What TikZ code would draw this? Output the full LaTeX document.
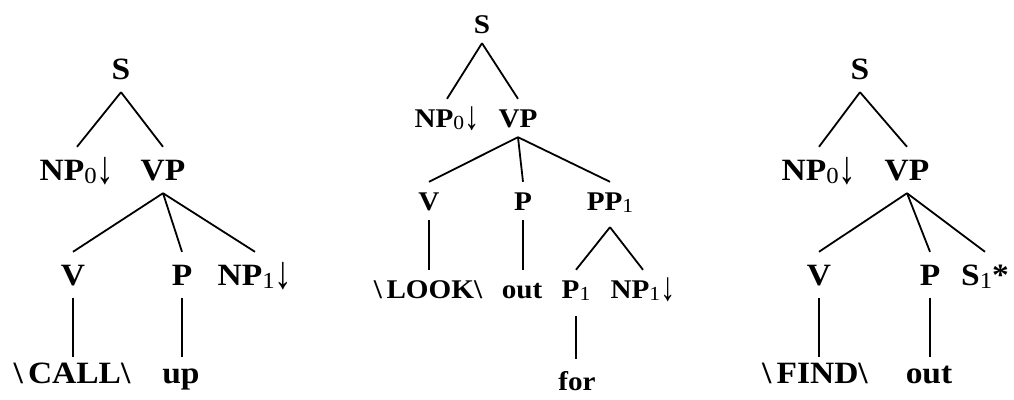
\documentclass[tikz,border=0pt]{standalone}
\usepackage{fontspec}
\usepackage{graphicx}
\setmainfont{Liberation Serif}[FakeStretch=1.08]
\makeatletter
\newcommand\lsub[1]{\raisebox{-0.1em}{\mdseries\fontsize{\fpeval{0.74*\f@size}}{1}\selectfont #1}}
\makeatother
\newcommand\darr{{\mdseries\raisebox{-0.1em}{\scalebox{1.05}[1.5]{↓}}}}
\newcommand\bsl{\textbackslash}
\begin{document}
\begin{tikzpicture}[x=1pt,y=-1pt,
  edge/.style={line width=1.8pt},
  lab/.style={anchor=base, inner xsep=0pt, text depth=0pt},
  big/.style={lab, font=\bfseries\fontsize{31}{36}\selectfont, text height=20pt, inner ysep=13pt},
  bigleaf/.style={big, inner ysep=6pt},
  small/.style={lab, font=\bfseries\fontsize{27}{31}\selectfont, text height=18pt, inner ysep=10pt},
  smallleaf/.style={small, inner ysep=13pt}]
\useasboundingbox (0,0) rectangle (1014,399);
% ---------- tree 1 ----------
\node[big] (a-S) at (121,79) {S};
\node[big] (a-NP0) at (77,180) {NP\lsub{0}\darr};
\node[big] (a-VP) at (163,180) {VP};
\node[big] (a-V) at (73,285) {V};
\node[big] (a-P) at (182,285) {P};
\node[big] (a-NP1) at (255,285) {NP\lsub{1}\darr};
\node[bigleaf] (a-call) at (72,383) {\bsl\,CALL\bsl};
\node[bigleaf] (a-up) at (181,383) {up};
\draw[edge] (a-S.south) -- (a-NP0.north);
\draw[edge] (a-S.south) -- (a-VP.north);
\draw[edge] (a-VP.south) -- (a-V.north);
\draw[edge] (a-VP.south) -- (a-P.north);
\draw[edge] (a-VP.south) -- (a-NP1.north);
\draw[edge] (a-V.south) -- (a-V.south |- a-call.north);
\draw[edge] (a-P.south) -- (a-P.south |- a-up.north);
% ---------- tree 2 ----------
\node[small] (b-S) at (482,33) {S};
\node[small] (b-NP0) at (447,127) {NP\lsub{0}\darr};
\node[small] (b-VP) at (518,127) {VP};
\node[small] (b-V) at (429,210) {V};
\node[small] (b-P) at (523,210) {P};
\node[small] (b-PP1) at (610,210) {PP\lsub{1}};
\node[small] (b-look) at (428,298) {\bsl\,LOOK\bsl};
\node[small] (b-out) at (522,298) {out};
\node[small] (b-P1) at (576,298) {P\lsub{1}};
\node[small] (b-NP1) at (643,298) {NP\lsub{1}\darr};
\node[smallleaf] (b-for) at (577,390) {for};
\draw[edge] (b-S.south) -- (b-NP0.north);
\draw[edge] (b-S.south) -- (b-VP.north);
\draw[edge] (b-VP.south) -- (b-V.north);
\draw[edge] (b-VP.south) -- (b-P.north);
\draw[edge] (b-VP.south) -- (b-PP1.north);
\draw[edge] (b-V.south) -- (b-V.south |- b-look.north);
\draw[edge] (b-P.south) -- (b-P.south |- b-out.north);
\draw[edge] ([yshift=-7pt]b-PP1.south) -- (b-P1.north);
\draw[edge] ([yshift=-7pt]b-PP1.south) -- (b-NP1.north);
\draw[edge] ([yshift=-8pt]b-P1.south) -- (b-P1.south |- b-for.north);
% ---------- tree 3 ----------
\node[big] (c-S) at (860,79) {S};
\node[big] (c-NP0) at (819,180) {NP\lsub{0}\darr};
\node[big] (c-VP) at (907,180) {VP};
\node[big] (c-V) at (819,285) {V};
\node[big] (c-P) at (930,285) {P};
\node[big] (c-S1) at (985,285) {S\lsub{1}*};
\node[bigleaf] (c-find) at (815,383) {\bsl\,FIND\bsl};
\node[bigleaf] (c-out) at (929,383) {out};
\draw[edge] (c-S.south) -- (c-NP0.north);
\draw[edge] (c-S.south) -- (c-VP.north);
\draw[edge] (c-VP.south) -- (c-V.north);
\draw[edge] (c-VP.south) -- (c-P.north);
\draw[edge] (c-VP.south) -- (c-S1.north);
\draw[edge] (c-V.south) -- (c-V.south |- c-find.north);
\draw[edge] (c-P.south) -- (c-P.south |- c-out.north);
\end{tikzpicture}
\end{document}
